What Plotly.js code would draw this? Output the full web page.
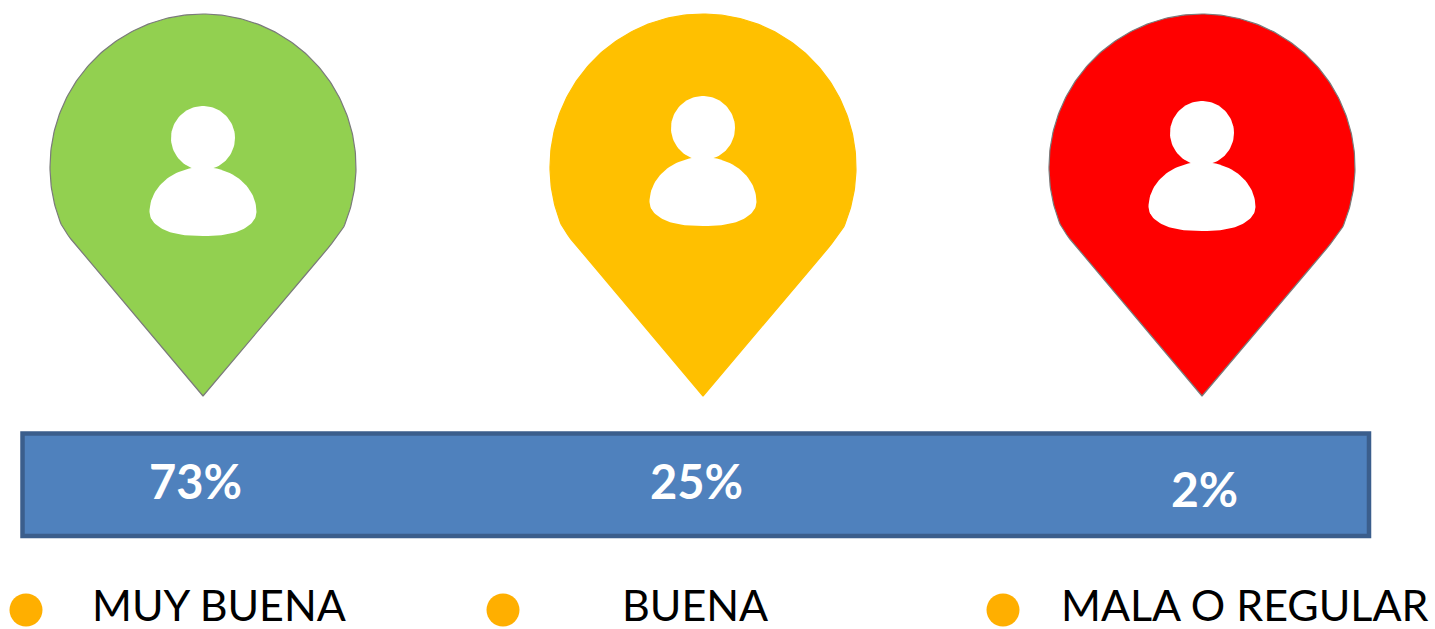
<!DOCTYPE html>
<html>
<head>
<meta charset="utf-8">
<script src="https://cdn.plot.ly/plotly-3.0.1.min.js"></script>
<style>html,body{margin:0;padding:0;background:#fff;overflow:hidden}#chart{width:1435px;height:629px}</style>
</head>
<body>
<div id="chart"></div>
<script>
// Data
const categories = ["MUY BUENA", "BUENA", "MALA O REGULAR"];
const percentages = [73, 25, 2];

// Layout of the infographic, in picture pixels
const pinColors = ["#92d050", "#ffc000", "#ff0000"];
const pinOutlines = ["#7a7a7a", "#ffc000", "#7a7a7a"];
const pinX = [203, 703, 1202];
const headY = [138, 128, 133];
const percentX = [195, 696, 1204];
const percentY = [481, 481, 488];
const dotX = [26, 503, 1003];
const labelX = [92, 622, 1061];

function pinPath(cx) {
  const cy = 167, r = 153, tip = 396, xs = [cx], ys = [tip];
  const joint = [-104, 273], ctrl = [-128, 246], a0 = 203 * Math.PI / 180;
  const start = [r * Math.cos(a0), cy - r * Math.sin(a0)];
  const corner = (sign, from, to) => {
    for (let t = 0; t <= 1.001; t += 0.1) {
      const u = 1 - t;
      xs.push(cx + sign * (u * u * from[0] + 2 * u * t * ctrl[0] + t * t * to[0]));
      ys.push(u * u * from[1] + 2 * u * t * ctrl[1] + t * t * to[1]);
    }
  };
  corner(1, joint, start);
  for (let d = 202; d >= -22; d -= 1) {
    const a = d * Math.PI / 180;
    xs.push(cx + r * Math.cos(a));
    ys.push(cy - r * Math.sin(a));
  }
  corner(-1, start, joint);
  xs.push(cx); ys.push(tip);
  return {xs, ys};
}
function personHead(cx, cy) {
  const xs = [], ys = [];
  for (let d = 0; d <= 360; d += 4) {
    const a = d * Math.PI / 180;
    xs.push(cx + 32 * Math.cos(a)); ys.push(cy + 32 * Math.sin(a));
  }
  return {xs, ys};
}
function personBody(cx, headCy) {
  const wide = headCy + 74, xs = [], ys = [];
  for (let d = 0; d <= 360; d += 3) {
    const a = d * Math.PI / 180, s = Math.sin(a), c = Math.cos(a);
    const ry = s < 0 ? 45 : 24;
    xs.push(cx + 53.5 * Math.sign(c) * Math.pow(Math.abs(c), s > 0 ? 0.8 : 1));
    ys.push(wide + ry * s);
  }
  return {xs, ys};
}

const traces = [];
categories.forEach((name, i) => {
  const p = pinPath(pinX[i]);
  traces.push({x: p.xs, y: p.ys, mode: "lines", fill: "toself", fillcolor: pinColors[i],
    line: {color: pinOutlines[i], width: 1.2}, hoverinfo: "skip", showlegend: false});
  const h = personHead(pinX[i], headY[i]);
  traces.push({x: h.xs, y: h.ys, mode: "lines", fill: "toself", fillcolor: "#fff",
    line: {color: "#fff", width: 0}, hoverinfo: "skip", showlegend: false});
  const b = personBody(pinX[i], headY[i]);
  traces.push({x: b.xs, y: b.ys, mode: "lines", fill: "toself", fillcolor: "#fff",
    line: {color: "#fff", width: 0}, hoverinfo: "skip", showlegend: false});
});
traces.push({x: dotX, y: dotX.map(() => 610), mode: "markers", text: categories,
  marker: {color: "#ffaf00", size: 33}, hoverinfo: "text", showlegend: false});
traces.push({x: labelX, y: labelX.map(() => 610), mode: "text", text: categories,
  textposition: "middle right", cliponaxis: false, hoverinfo: "skip", showlegend: false,
  textfont: {family: "Lato, sans-serif", size: 43, color: "#000"}});

const annotations = [];
percentages.forEach((v, i) => annotations.push({
  x: percentX[i], y: percentY[i], text: "<b>" + v + "%</b>", showarrow: false,
  xanchor: "center", yanchor: "middle",
  font: {family: "Lato, sans-serif", size: i === 2 ? 48 : 47, color: "#fff"}
}));

const layout = {
  width: 1435, height: 629,
  margin: {l: 0, r: 0, t: 0, b: 0, pad: 0},
  paper_bgcolor: "#fff", plot_bgcolor: "#fff",
  xaxis: {range: [0, 1435], visible: false, fixedrange: true},
  yaxis: {range: [629, 0], visible: false, fixedrange: true},
  shapes: [{type: "rect", x0: 22.5, x1: 1369, y0: 433.5, y1: 536, layer: "below",
    fillcolor: "#4f81bd", line: {color: "#3b5e8c", width: 4.5}}],
  annotations: annotations
};
Plotly.newPlot("chart", traces, layout, {displayModeBar: false, staticPlot: true});
</script>
</body>
</html>
